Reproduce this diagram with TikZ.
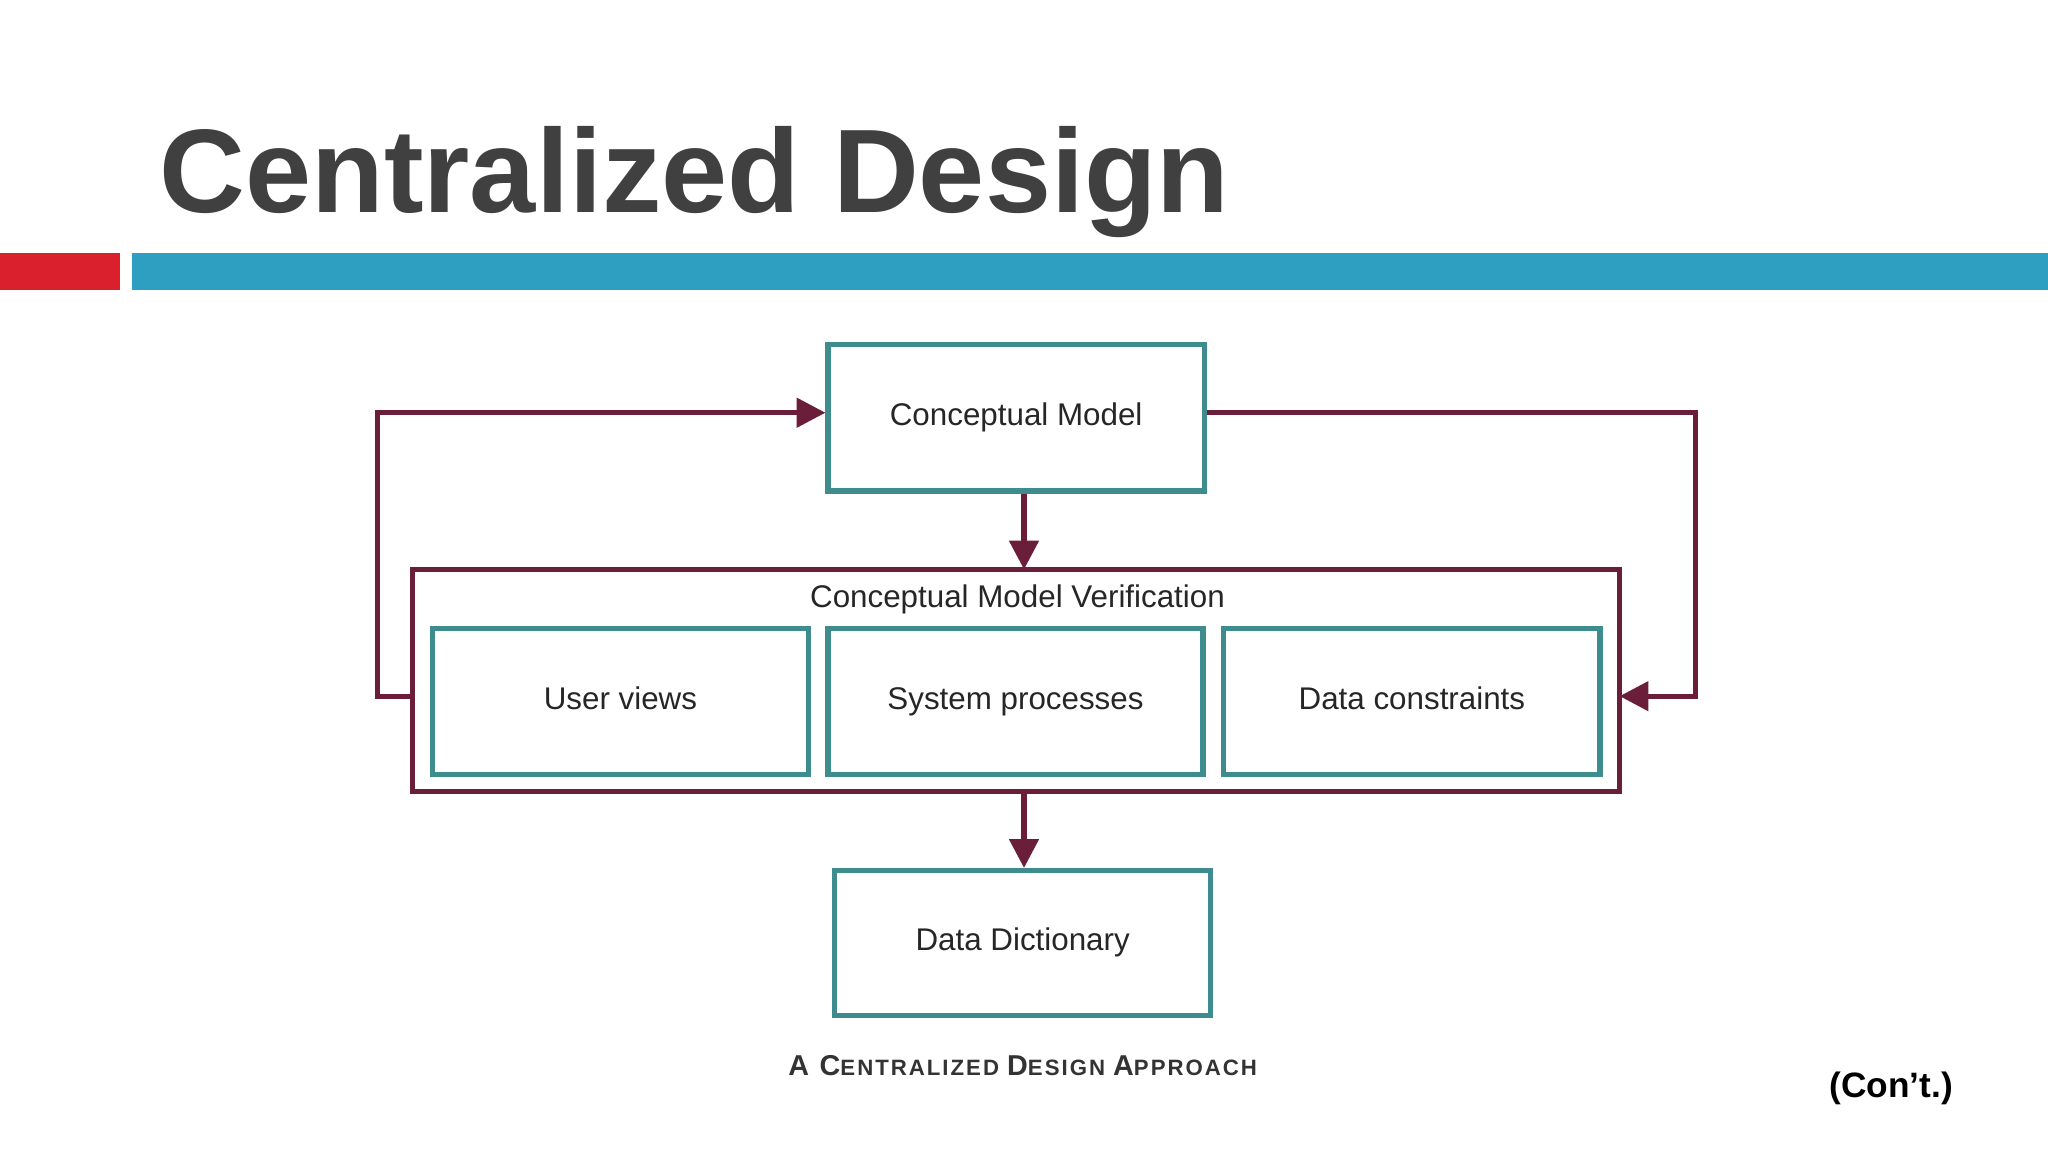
\documentclass[tikz,border=0pt]{standalone}
\usepackage{fontspec}
\setmainfont{Liberation Sans}
\usetikzlibrary{arrows.meta}
\definecolor{teal1}{HTML}{3E8C8E}
\definecolor{maroon1}{HTML}{6A1E3A}
\definecolor{barblue}{HTML}{2E9FC0}
\definecolor{barred}{HTML}{D9202C}
\definecolor{titlegray}{HTML}{404040}
\begin{document}
\begin{tikzpicture}[x=1pt,y=-1pt,
  tbox/.style={draw=teal1,line width=4pt,fill=white,font=\fontsize{24}{28}\selectfont,text=black!85,text height=17pt,text depth=5pt},
  conn/.style={draw=maroon1,line width=4pt,-{Triangle[length=22pt,width=22pt]}}]
\useasboundingbox (0,0) rectangle (1568,882);
\fill[white] (0,0) rectangle (1568,882);
\node[anchor=base west,font=\fontsize{91}{100}\selectfont\bfseries,text=titlegray,inner sep=0] (title) at (122,163) {Centralized Design};
\fill[barred] (0,194) rectangle (92,222);
\fill[barblue] (101,194) rectangle (1568,222);
% boxes
\draw[draw=maroon1,line width=4pt] (316,436) rectangle (1240,606);
\coordinate (outN) at (784,436);
\coordinate (outS) at (784,606);
\coordinate (outW) at (316,533);
\coordinate (outE) at (1240,533);
\node[font=\fontsize{24}{28}\selectfont,text=black!85] (ver) at (779,459) {Conceptual Model Verification};
\node[tbox,minimum width=288pt,minimum height=112pt] (cm) at (778,320) {Conceptual Model};
\node[tbox,minimum width=288pt,minimum height=112pt] (uv) at (475,537) {User views};
\node[tbox,minimum width=287pt,minimum height=112pt] (sp) at (777.5,537) {System processes};
\node[tbox,minimum width=288pt,minimum height=112pt] (dc) at (1081,537) {Data constraints};
\node[tbox,minimum width=288pt,minimum height=111pt] (dd) at (783,722) {Data Dictionary};
% connectors
\draw[conn] (cm.south -| outN) -- (outN);
\draw[conn] (outS) -- (dd.north -| outS);
\draw[conn] (outW) -- (289,533) -- (289,316) -- (cm.west |- 0,316);
\draw[conn] (cm.east |- 0,316) -- (1298,316) -- (1298,533) -- (outE);
\node[font=\bfseries\addfontfeatures{LetterSpace=9},text=black!80] (cap) at (783,816) {{\fontsize{22}{24}\selectfont A C}{\fontsize{17}{20}\selectfont ENTRALIZED }{\fontsize{22}{24}\selectfont D}{\fontsize{17}{20}\selectfont ESIGN }{\fontsize{22}{24}\selectfont A}{\fontsize{17}{20}\selectfont PPROACH}};
\node[font=\fontsize{27}{30}\selectfont\bfseries] (cont) at (1448,833) {(Con’t.)};
\end{tikzpicture}
\end{document}
